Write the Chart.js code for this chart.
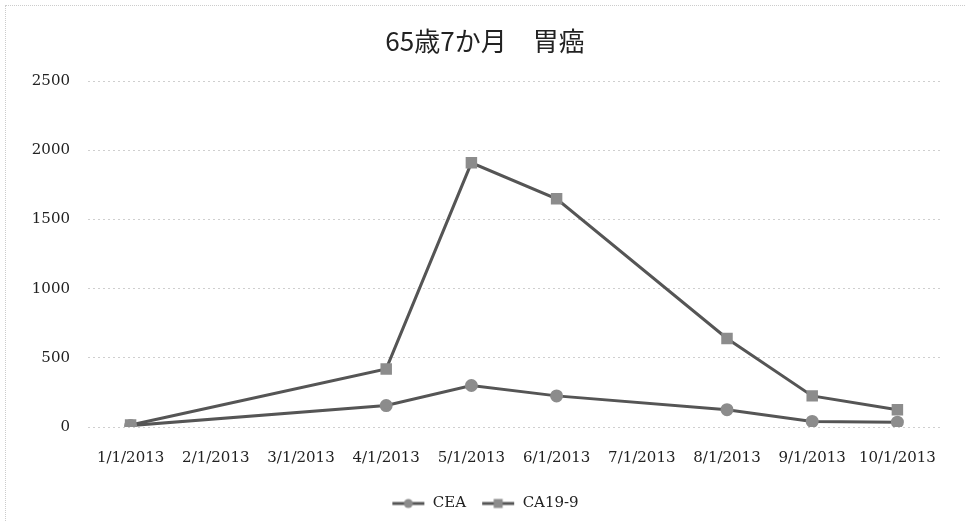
<!DOCTYPE html>
<html>
<head>
<meta charset="utf-8">
<script src="https://cdn.jsdelivr.net/npm/chart.js@4"></script>
<style>
  html, body { margin: 0; padding: 0; background: #fff; }
  .graph-container { position: relative; width: 965px; height: 521px; }
  .frame { position: absolute; left: 5px; top: 5px; right: 0; bottom: 0; border-left: 1px dotted #ccc; border-top: 1px dotted #ccc; pointer-events: none; }
</style>
</head>
<body>
<div class="graph-container">
  <canvas id="myChart" width="965" height="521"></canvas>
  <div class="frame"></div>
</div>
<script>
// month slots on the date axis (Excel style)
const months = ['1/1/2013', '2/1/2013', '3/1/2013', '4/1/2013', '5/1/2013',
                '6/1/2013', '7/1/2013', '8/1/2013', '9/1/2013', '10/1/2013'];
const cea = [10, null, null, 155, 300, 225, null, 125, 40, 35];
const ca199 = [15, null, null, 420, 1910, 1650, null, 640, 225, 125];
const yTicks = [0, 500, 1000, 1500, 2000, 2500];

const lineColor = '#555555';
const markerColor = '#8c8c8c';
const serif = "'DejaVu Serif', 'Liberation Serif', serif";

// legend swatch: short line with the marker on it
function swatch(style) {
    let c = document.createElement('canvas');
    c.width = 34; c.height = 14;
    let g = c.getContext('2d');
    g.strokeStyle = lineColor;
    g.lineWidth = 3;
    g.beginPath(); g.moveTo(1, 7); g.lineTo(33, 7); g.stroke();
    g.fillStyle = markerColor;
    if (style === 'circle') {
        g.beginPath(); g.arc(17, 7, 4.5, 0, Math.PI * 2); g.fill();
    } else {
        g.fillRect(12.5, 2.5, 9, 9);
    }
    return c;
}

let canvas = document.getElementById('myChart');
var myChart = new Chart(canvas, {
    type: 'line',
    data: {
        labels: months,
        datasets: [{
            label: 'CEA',
            data: cea,
            borderColor: lineColor,
            borderWidth: 3,
            pointStyle: 'circle',
            pointRadius: 5,
            pointBackgroundColor: markerColor,
            pointBorderColor: markerColor,
            spanGaps: true,
            tension: 0
        }, {
            label: 'CA19-9',
            data: ca199,
            borderColor: lineColor,
            borderWidth: 3,
            pointStyle: 'rect',
            pointRadius: 6,
            pointBackgroundColor: markerColor,
            pointBorderColor: markerColor,
            spanGaps: true,
            tension: 0
        }]
    },
    options: {
        responsive: false,
        animation: false,
        layout: { padding: { left: 30, right: 25, top: 26, bottom: 0 } },
        plugins: {
            title: {
                display: true,
                text: '65歳7か月　胃癌',
                color: '#222',
                font: { family: "'Noto Sans CJK JP', sans-serif", size: 26, weight: 'normal' },
                padding: { top: 0, bottom: 24 }
            },
            legend: {
                position: 'bottom',
                labels: {
                    usePointStyle: true,
                    pointStyleWidth: 34,
                    color: '#222',
                    font: { family: serif, size: 15 },
                    padding: 15,
                    generateLabels: function (chart) {
                        return chart.data.datasets.map(function (ds, i) {
                            return {
                                text: ds.label,
                                pointStyle: swatch(ds.pointStyle),
                                fontColor: '#222',
                                datasetIndex: i,
                                hidden: false
                            };
                        });
                    }
                }
            },
            tooltip: { enabled: false }
        },
        scales: {
            x: {
                type: 'category',
                offset: true,
                grid: { display: false },
                border: { display: false },
                ticks: {
                    color: '#222',
                    font: { family: serif, size: 15 },
                    maxRotation: 0,
                    autoSkip: false,
                    padding: 14
                }
            },
            y: {
                min: yTicks[0],
                max: yTicks[yTicks.length - 1],
                afterBuildTicks: function (axis) {
                    axis.ticks = yTicks.map(function (v) { return { value: v }; });
                },
                afterFit: function (axis) { axis.width = 58; },
                grid: {
                    color: '#cfcfcf',
                    lineWidth: 1,
                    drawTicks: false
                },
                border: { display: false, dash: [2, 3] },
                ticks: {
                    color: '#222',
                    font: { family: serif, size: 15 },
                    padding: 18,
                    callback: function (v) { return String(v); }
                }
            }
        }
    }
});
</script>
</body>
</html>
